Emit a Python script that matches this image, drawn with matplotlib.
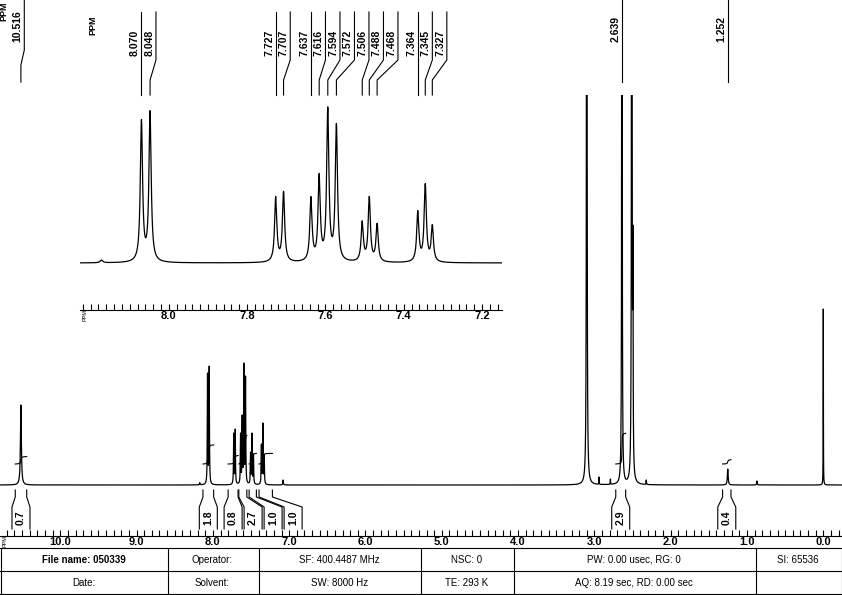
import numpy as np
import matplotlib.pyplot as plt
from matplotlib.lines import Line2D
from matplotlib.ticker import FormatStrFormatter

plt.rcParams['font.family'] = ['Liberation Sans', 'DejaVu Sans']

W, H = 842, 595

# peaks: shift (ppm), height above baseline, half width (ppm)
peak_ppm = [10.516, 8.172, 8.070, 8.048, 7.727, 7.707, 7.637, 7.616, 7.594, 7.572,
            7.506, 7.488, 7.468, 7.364, 7.345, 7.327, 7.080,
            3.100, 2.940, 2.790, 2.639, 2.510, 2.495, 2.320, 1.252, 0.870, 0.000]
peak_height = [80, 2.3, 112, 119, 52, 56, 52, 70, 122, 109,
               33, 52, 31, 41, 62, 30, 5,
               1500, 8, 6, 1500, 1500, 260, 5, 16, 4, 176]
peak_hwhm = [0.007, 0.004, 0.0034, 0.0034, 0.0034, 0.0034, 0.0034, 0.0034, 0.0034, 0.0034,
             0.0034, 0.0034, 0.0034, 0.0034, 0.0034, 0.0034, 0.004,
             0.003, 0.002, 0.002, 0.0025, 0.003, 0.003, 0.003, 0.006, 0.004, 0.0015]

# picked peaks
main_labels = [10.516, 2.639, 1.252]
inset_labels = [8.070, 8.048, 7.727, 7.707, 7.637, 7.616, 7.594, 7.572,
                7.506, 7.488, 7.468, 7.364, 7.345, 7.327]

# integrals
int_hi = [10.59, 8.13, 7.80, 7.66, 7.525, 7.395, 2.72, 1.32]
int_lo = [10.44, 7.99, 7.67, 7.555, 7.43, 7.22, 2.59, 1.21]
int_val = [0.7, 1.8, 0.8, 2.7, 1.0, 1.0, 2.9, 0.4]

table_row1 = ['File name: 050339', 'Operator:', 'SF: 400.4487 MHz', 'NSC: 0',
              'PW: 0.00 usec, RG: 0', 'SI: 65536']
table_row2 = ['Date:', 'Solvent:', 'SW: 8000 Hz', 'TE: 293 K',
              'AQ: 8.19 sec, RD: 0.00 sec', '']
table_cols = [0, 167, 258, 421, 513, 755, 841]


def lor(x, x0, g):
    return g ** 2 / ((x - x0) ** 2 + g ** 2)


pp = np.array(peak_ppm)
gg = np.array(peak_hwhm)
M = lor(pp[:, None], pp[None, :], gg[None, :])
amp = np.linalg.solve(M, np.array(peak_height, dtype=float))


def spectrum(x):
    return (amp[None, :] * lor(x[:, None], pp[None, :], gg[None, :])).sum(axis=1)


def fx(px):
    return px / W


def fy(py):
    return 1 - py / H


fig = plt.figure(figsize=(W / 100, H / 100), dpi=100)

# main spectrum
ax = fig.add_axes([0, fy(536), 1, (536 - 95) / H])
ax.set_facecolor('none')
ax.set_xlim(10.79, -0.245)
ax.set_ylim(-51, 390)
xm = np.union1d(np.arange(-0.245, 10.79, 0.0004), pp)
ym = spectrum(xm)
ax.plot(xm, ym, color='black', lw=0.9)

# inset
ins = fig.add_axes([fx(80), fy(310), 422 / W, 210 / H])
ins.set_facecolor('none')
ins.set_xlim(8.227, 7.149)
ins.set_ylim(-36.7, 127.3)
xi = np.union1d(np.arange(7.149, 8.227, 0.0002), pp[(pp > 7.1) & (pp < 8.3)])
ins.plot(xi, spectrum(xi), color='black', lw=0.9)

for a, major, minor in [(ax, np.arange(0, 11, 1.0), np.arange(-0.2, 10.8, 0.1)),
                        (ins, np.arange(7.2, 8.1, 0.2), np.arange(7.16, 8.23, 0.02))]:
    for s in ['top', 'left', 'right']:
        a.spines[s].set_visible(False)
    a.spines['bottom'].set_linewidth(0.8)
    a.set_yticks([])
    a.set_xticks(major)
    a.set_xticks(minor, minor=True)
    a.xaxis.set_major_formatter(FormatStrFormatter('%.1f'))
    a.tick_params(axis='x', which='both', direction='in', length=4, width=0.8,
                  pad=1, labelsize=8)
    for t in a.get_xticklabels():
        t.set_fontweight('bold')

fig.text(fx(5), fy(541), 'PPM', rotation=90, fontsize=4, ha='center', va='center')
fig.text(fx(85), fy(315), 'PPM', rotation=90, fontsize=4, ha='center', va='center')

fig.canvas.draw()


def line_px(xs, ys, lw=0.8):
    fig.add_artist(Line2D([fx(v) for v in xs], [fy(v) for v in ys],
                          color='black', lw=lw))


def spread(xs, start, gap):
    out = []
    prev = start
    for v in xs:
        v = max(v, prev + gap)
        out.append(v)
        prev = v
    return out


# peak labels over main spectrum
fig.text(fx(8.3), fy(21), 'PPM', rotation=90, fontsize=6.5, fontweight='bold',
         ha='right', va='bottom')
px_main = [ax.transData.transform((v, 0))[0] for v in main_labels]
lab_main = spread(px_main, 9.8, 14.5)
for v, p, q in zip(main_labels, px_main, lab_main):
    line_px([q, q, p, p], [0, 50, 65, 82])
    fig.text(fx(q - 1.5), fy(42), f'{v:.3f}', rotation=90, fontsize=7.5,
             fontweight='bold', ha='right', va='bottom')

# peak labels over inset
fig.text(fx(97), fy(35), 'PPM', rotation=90, fontsize=6.5, fontweight='bold',
         ha='right', va='bottom')
px_ins = [ins.transData.transform((v, 0))[0] for v in inset_labels]
lab_ins = spread(px_ins, 98, 14.5)
for v, p, q in zip(inset_labels, px_ins, lab_ins):
    line_px([q, q, p, p], [12, 60, 80, 95])
    fig.text(fx(q - 1.5), fy(56), f'{v:.3f}', rotation=90, fontsize=7.5,
             fontweight='bold', ha='right', va='bottom')

# integrals
for hi, lo, val in zip(int_hi, int_lo, int_val):
    seg = xm[(xm >= lo) & (xm <= hi)][::-1]
    cum = np.cumsum(spectrum(seg))
    cum = 21 + (cum - cum[0]) / (cum[-1] - cum[0]) * val * 10.6
    ax.plot(seg, cum, color='black', lw=0.8)

cent = [(ax.transData.transform((hi, 0))[0] + ax.transData.transform((lo, 0))[0]) / 2
        for hi, lo in zip(int_hi, int_lo)]
lab_int = spread(cent, -100, 20)
for hi, lo, val, c in zip(int_hi, int_lo, int_val, lab_int):
    xl = ax.transData.transform((hi, 0))[0]
    xr = ax.transData.transform((lo, 0))[0]
    line_px([xl, xl, c - 9, c - 9], [490, 497, 507, 529])
    line_px([xr, xr, c + 9, c + 9], [490, 497, 507, 529])
    fig.text(fx(c), fy(518), f'{val:.1f}', rotation=90, fontsize=7.5,
             fontweight='bold', ha='center', va='center')

# parameter table
for yy in [548, 571, 594]:
    line_px([0, 841], [yy, yy])
for xx in table_cols:
    line_px([xx + 0.5, xx + 0.5], [548, 594])
for i in range(len(table_row1)):
    cx = (table_cols[i] + table_cols[i + 1]) / 2
    fig.text(fx(cx), fy(560), table_row1[i], fontsize=7,
             fontweight='bold' if i == 0 else 'normal', ha='center', va='center')
    fig.text(fx(cx), fy(583), table_row2[i], fontsize=7, ha='center', va='center')

fig.savefig('out.png', dpi=100)
